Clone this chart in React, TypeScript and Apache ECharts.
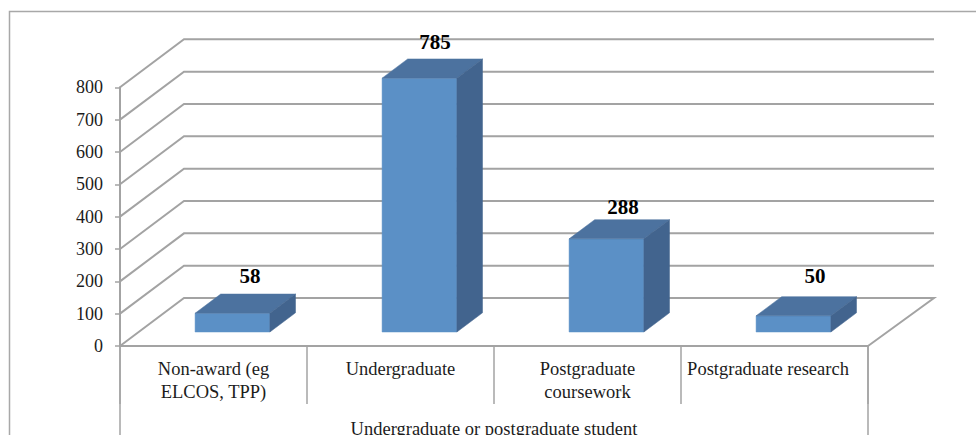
import React, { useEffect, useRef } from "react";
import * as echarts from "echarts";

const categories = ["Non-award (eg\nELCOS, TPP)", "Undergraduate", "Postgraduate\ncoursework", "Postgraduate research"];
const parentCategory = ["Undergraduate or postgraduate student"];
const values = [58, 785, 288, 50];
const gridValues = [0, 100, 200, 300, 400, 500, 600, 700, 800];
const labelDx = [17.5, 15.5, 16.5, 21.5];
const labelDy = [-37, -36, -32, -40];

const FONT = '"Liberation Serif", "Times New Roman", serif';
const LINE = "#a3a3a3";
const TEXT = "#1c1c1c";
const DEPTH_X = 64;
const DEPTH_Y = 48;
const BAR_DEPTH_X = 25.6;
const BAR_DEPTH_Y = 19.2;
const BAR_INSET_X = 19;
const BAR_INSET_Y = 14;
const BAR_RATIO = 0.4;

export default function App() {
  const ref = useRef<HTMLDivElement>(null);
  useEffect(() => {
    document.body.style.margin = "0";
    document.body.style.overflow = "hidden";
    const chart = echarts.init(ref.current!, null, { renderer: "svg" });
    chart.setOption({
      animation: false,
      backgroundColor: "#ffffff",
      graphic: [
        {
          type: "polyline",
          z: 0,
          shape: { points: [[9.5, 436], [9.5, 11.5], [977, 11.5]] },
          style: { stroke: "#a8a8a8", lineWidth: 1.5, fill: "none" },
        },
      ],
      grid: { left: 120, right: 108, top: 87.3, bottom: 89, containLabel: false, outerBoundsMode: "none" },
      xAxis: [
        {
          type: "category",
          data: [
            categories[0],
            categories[1],
            categories[2],
            { value: categories[3], textStyle: { padding: [0, 13, 0, 0] } },
          ],
          boundaryGap: true,
          axisLine: { lineStyle: { color: LINE, width: 2 } },
          axisTick: { show: true, length: 58, lineStyle: { color: LINE, width: 1.5 } },
          axisLabel: {
            interval: 0,
            margin: 12,
            fontFamily: FONT,
            fontSize: 18.5,
            lineHeight: 22.5,
            color: TEXT,
            align: "center",
            verticalAlign: "top",
          },
        },
        {
          type: "category",
          position: "bottom",
          data: parentCategory,
          axisLine: { show: false },
          axisTick: { show: true, length: 92, lineStyle: { color: LINE, width: 1.5 } },
          axisLabel: {
            margin: 73,
            fontFamily: FONT,
            fontSize: 18.5,
            color: TEXT,
            verticalAlign: "top",
          },
        },
      ],
      yAxis: {
        type: "value",
        min: 0,
        max: 800,
        interval: 100,
        axisLine: { show: true, lineStyle: { color: LINE, width: 2 } },
        axisTick: { show: true, length: 5, lineStyle: { color: LINE, width: 1.5 } },
        splitLine: { show: false },
        axisLabel: { margin: 17, fontFamily: FONT, fontSize: 18, color: TEXT },
      },
      series: [
        {
          type: "custom",
          name: "walls",
          z: 1,
          xAxisIndex: 0,
          data: gridValues.map((v) => [0, v]),
          encode: { x: 0, y: 1 },
          renderItem: (params: any, api: any) => {
            const cs = params.coordSys;
            const y = api.coord([0, api.value(1)])[1];
            const pts = [
              [cs.x, y],
              [cs.x + DEPTH_X, y - DEPTH_Y],
              [cs.x + cs.width + DEPTH_X + 2, y - DEPTH_Y],
            ];
            if (api.value(1) === 0) pts.push([cs.x + cs.width, y]);
            return {
              type: "polyline",
              shape: { points: pts },
              style: { stroke: LINE, lineWidth: 2, fill: "none" },
            };
          },
        },
        {
          type: "custom",
          name: "Students",
          z: 2,
          xAxisIndex: 0,
          data: values.map((v, i) => [i, v]),
          encode: { x: 0, y: 1 },
          renderItem: (params: any, api: any) => {
            const i = api.value(0);
            const val = api.value(1);
            const top = api.coord([i, val]);
            const base = api.coord([i, 0]);
            const w = api.size([1, 0])[0] * BAR_RATIO;
            const x0 = top[0] - w / 2 + BAR_INSET_X;
            const x1 = x0 + w;
            const yT = top[1] - BAR_INSET_Y;
            const yB = base[1] - BAR_INSET_Y;
            const face = (points: number[][], fill: string) => ({
              type: "polygon",
              shape: { points },
              style: { fill, stroke: fill, lineWidth: 0.5 },
            });
            return {
              type: "group",
              children: [
                face([[x0, yB], [x1, yB], [x1, yT], [x0, yT]], "#5b90c6"),
                face(
                  [[x0, yT], [x1, yT], [x1 + BAR_DEPTH_X, yT - BAR_DEPTH_Y], [x0 + BAR_DEPTH_X, yT - BAR_DEPTH_Y]],
                  "#4c729f",
                ),
                face(
                  [[x1, yB], [x1 + BAR_DEPTH_X, yB - BAR_DEPTH_Y], [x1 + BAR_DEPTH_X, yT - BAR_DEPTH_Y], [x1, yT]],
                  "#42648e",
                ),
                {
                  type: "text",
                  style: {
                    x: top[0] + BAR_INSET_X + labelDx[i],
                    y: yT + labelDy[i],
                    text: String(val),
                    align: "center",
                    verticalAlign: "middle",
                    font: `bold 21px ${FONT}`,
                    fill: "#000000",
                  },
                },
              ],
            };
          },
        },
      ],
    });
    return () => chart.dispose();
  }, []);
  return <div ref={ref} style={{ width: 976, height: 435 }} />;
}
